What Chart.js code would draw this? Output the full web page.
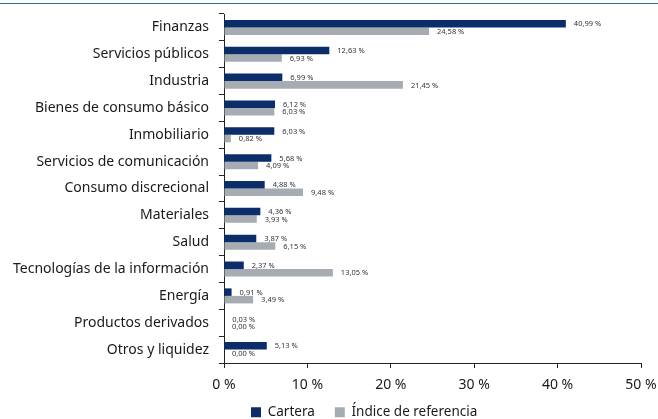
<!DOCTYPE html>
<html>
<head>
<meta charset="utf-8">
<script src="https://cdn.jsdelivr.net/npm/chart.js@4"></script>
<style>
html,body{margin:0;padding:0;background:#fff;}
#wrap{position:relative;width:658px;height:419px;}
</style>
</head>
<body>
<div id="wrap"><canvas id="c" width="658" height="419"></canvas></div>
<script>
const categories = ["Finanzas","Servicios públicos","Industria","Bienes de consumo básico","Inmobiliario","Servicios de comunicación","Consumo discrecional","Materiales","Salud","Tecnologías de la información","Energía","Productos derivados","Otros y liquidez"];
const cartera = [40.99,12.63,6.99,6.12,6.03,5.68,4.88,4.36,3.87,2.37,0.91,0.03,5.13];
const indice = [24.58,6.93,21.45,6.03,0.82,4.09,9.48,3.93,6.15,13.05,3.49,0.00,0.00];
const seriesNames = ["Cartera","Índice de referencia"];
const xTicks = [0,10,20,30,40,50];

const FONT = "'Noto Sans', sans-serif";
const fmt = v => v.toFixed(2).replace('.', ',') + ' %';

const labelPlugin = {
  id: 'barLabels',
  afterDatasetsDraw(chart) {
    const ctx = chart.ctx;
    ctx.save();
    ctx.font = "7.5px " + FONT;
    ctx.fillStyle = '#333333';
    ctx.textBaseline = 'middle';
    ctx.textAlign = 'left';
    chart.data.datasets.forEach((ds, di) => {
      const meta = chart.getDatasetMeta(di);
      meta.data.forEach((el, i) => {
        ctx.fillText(fmt(ds.data[i]), el.x + 8, el.y + 0.5);
      });
    });
    ctx.restore();
  }
};

const topLine = {
  id: 'topLine',
  afterDraw(chart) {
    const ctx = chart.ctx;
    ctx.save();
    ctx.strokeStyle = '#2a6ca5';
    ctx.lineWidth = 1;
    ctx.beginPath();
    ctx.moveTo(0, 3.5);
    ctx.lineTo(chart.width, 3.5);
    ctx.stroke();
    ctx.restore();
  }
};

const legendPlace = {
  id: 'legendPlace',
  afterLayout(chart) {
    const lg = chart.legend;
    if (!lg) return;
    const h = lg.height;
    lg.top = 385.5;
    lg.bottom = lg.top + h;
    const w = lg.width;
    lg.left = 231;
    lg.right = lg.left + w;
  }
};

new Chart(document.getElementById('c'), {
  type: 'bar',
  data: {
    labels: categories,
    datasets: [
      { label: seriesNames[0], data: cartera, backgroundColor: '#0b2e6b', categoryPercentage: 0.56, barPercentage: 1.0 },
      { label: seriesNames[1], data: indice, backgroundColor: '#a6acb1', categoryPercentage: 0.56, barPercentage: 1.0 }
    ]
  },
  options: {
    indexAxis: 'y',
    responsive: false,
    animation: false,
    layout: { padding: { top: 14, right: 17, left: 0, bottom: -17.5 } },
    scales: {
      x: {
        min: 0, max: 50,
        afterBuildTicks: s => { s.ticks = xTicks.map(v => ({ value: v })); },
        afterFit: s => { s.height = 30; s.paddingLeft = 0; s.paddingRight = 0; },
        grid: { drawOnChartArea: false, tickLength: 5, color: '#222', tickColor: '#222' },
        border: { color: '#222', width: 1 },
        ticks: { color: '#1a1a1a', font: { family: FONT, size: 14 }, padding: 9, callback: v => v + ' %' }
      },
      y: {
        afterFit: s => { s.width = 224; s.paddingTop = 0; s.paddingBottom = 0; },
        grid: { drawOnChartArea: false, offset: true, tickLength: 5, color: '#222', tickColor: '#222' },
        border: { color: '#222', width: 1 },
        ticks: { color: '#1a1a1a', font: { family: FONT, size: 14 }, padding: 10 }
      }
    },
    plugins: {
      legend: {
        position: 'bottom',
        align: 'start',
        labels: { boxWidth: 10, boxHeight: 10, color: '#1a1a1a', font: { family: FONT, size: 13.5 }, padding: 20 }
      },
      tooltip: { enabled: false }
    }
  },
  plugins: [labelPlugin, topLine, legendPlace]
});
</script>
</body>
</html>
